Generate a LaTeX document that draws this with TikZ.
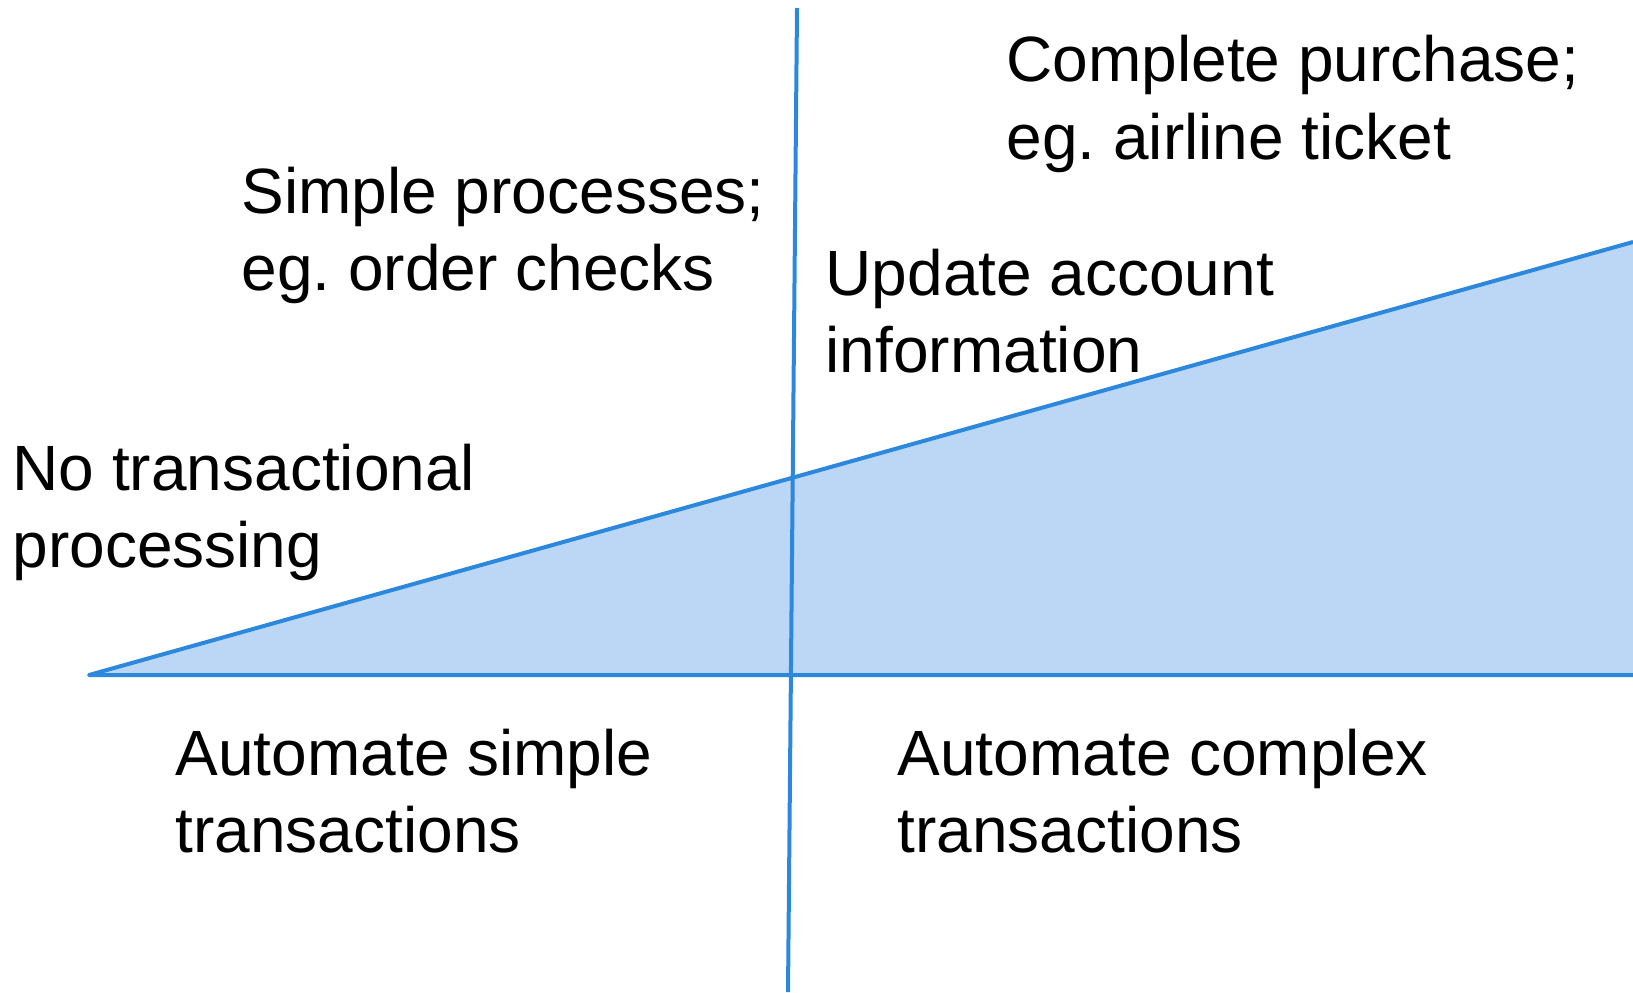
\documentclass[tikz,border=0pt]{standalone}
\usepackage{fontspec}
\setmainfont{Liberation Sans}
\usepackage{xcolor}
\usetikzlibrary{positioning,calc}
\definecolor{axisblue}{HTML}{2B88DC}
\definecolor{fillblue}{HTML}{BBD7F5}
\frenchspacing
\tikzset{
  figfont/.style={font=\fontsize{19.2}{23.1}\selectfont},
  figlabel/.style={figfont, align=left, inner sep=0pt, anchor=base west},
  figline/.style={draw=axisblue, line width=1.2pt, line join=round},
  figfill/.style={fill=fillblue},
}

\begin{document}
\begin{tikzpicture}[x=0.3pt, y=-0.3pt]
  \useasboundingbox (0,0) rectangle (1633,992);

  % Wedge corners and axis ends
  \coordinate (apex) at (89,675);
  \coordinate (baseR) at (1633,675);
  \coordinate (topR) at (1633,242);
  \coordinate (axisTop) at (797,8);
  \coordinate (axisBot) at (788,992);

  % Shaded wedge
  \fill[figfill] (apex) -- (topR) -- (baseR) -- cycle;
  \draw[figline] (topR) -- (apex) -- (baseR);

  % Dividing axis
  \draw[figline] (axisTop) -- (axisBot);

  % Labels (anchored on the baseline of their last line)
  \node[figlabel] (cmpl) at (1006,159) {Complete purchase;\\eg. airline ticket};
  \node[figlabel] (simp) at (241,290) {Simple processes;\\eg. order checks};
  \node[figlabel] (upd) at (825,372) {Update account\\information};
  \node[figlabel] (notx) at (12,567) {No transactional\\processing};
  \node[figlabel] (autS) at (175,852) {Automate simple\\transactions};
  \node[figlabel] (autC) at (897,852) {Automate complex\\transactions};
\end{tikzpicture}
\end{document}
